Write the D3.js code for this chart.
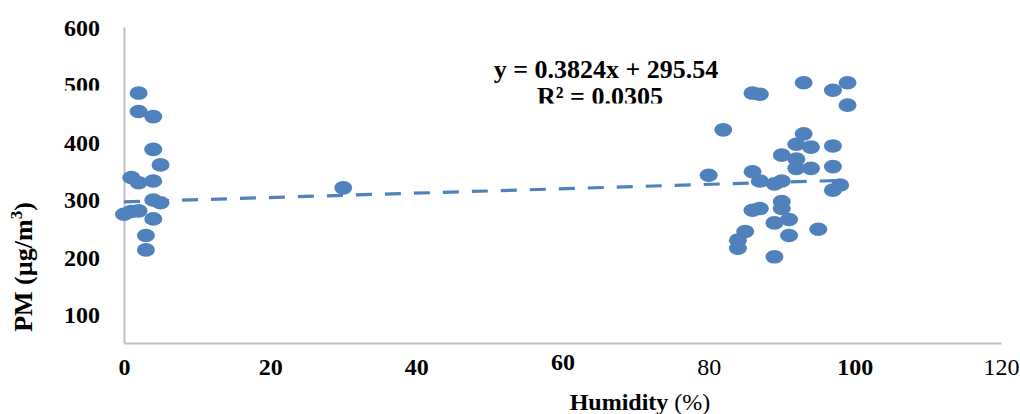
<!DOCTYPE html>
<html>
<head>
<meta charset="utf-8">
<script src="https://cdn.jsdelivr.net/npm/d3@7"></script>
<style>
  html, body { margin: 0; padding: 0; background: #fff; }
  svg { display: block; font-family: "Liberation Serif", "Times New Roman", serif; }
</style>
</head>
<body>
<svg id="chart" width="1020" height="414"></svg>
<script>
// Humidity (%) readings
const humidity = [
  2, 2, 4, 4, 5, 1, 2, 4, 4, 5, 0, 1, 2, 4, 3, 3,
  30,
  93, 97, 99, 99, 86, 87, 82, 80, 93, 92, 94, 97, 90, 92, 92, 94, 97,
  86, 87, 89, 90, 98, 97, 90, 90, 86, 87, 91, 89, 85, 84, 84, 91, 95, 89
];
// Matching PM concentrations (µg/m³)
const pm = [
  485, 453, 444, 387, 360, 338, 329, 332, 299, 294, 274, 279, 280, 266, 237, 212,
  320,
  503, 490, 503, 464, 485, 483, 421, 342, 414, 396, 391, 393, 377, 370, 354, 354, 357,
  348, 332, 327, 332, 325, 316, 296, 284, 281, 284, 265, 259, 244, 229, 215, 237, 248, 200
];
// Linear trendline coefficients
const trendSlope = 0.3824;
const trendIntercept = 295.54;
const r2 = 0.0305;

const xTicks = [0, 20, 40, 60, 80, 100, 120];
const yTicks = [100, 200, 300, 400, 500, 600];

const svg = d3.select("#chart");
const blue = "#4f81bd";
const axisGrey = "#bfbfbf";

const x = d3.scaleLinear().domain([0, 120]).range([124, 1001]);
const y = d3.scaleLinear().domain([50, 600]).range([343, 27]);

const defs = svg.append("defs");

// Axes: grey spines, no tick marks
const gx = svg.append("g").attr("transform", `translate(0,${y(50)})`)
  .call(d3.axisBottom(x).tickValues(xTicks).tickSize(0).tickSizeOuter(0).tickPadding(0));
const gy = svg.append("g").attr("transform", `translate(${x(0)},0)`)
  .call(d3.axisLeft(y).tickValues(yTicks).tickSize(0).tickSizeOuter(0).tickPadding(0));

[gx, gy].forEach(g => {
  g.select(".domain").attr("stroke", axisGrey).attr("stroke-width", 2);
  g.selectAll("text").attr("fill", "#000").attr("font-family", "Liberation Serif, serif")
    .attr("font-size", 24);
});

const lightTicks = new Set([80, 120]);
gx.selectAll(".tick text")
  .attr("font-weight", d => lightTicks.has(d) ? "normal" : "bold")
  .attr("dy", null)
  .attr("y", d => d === 60 ? 27 : 32);

gy.selectAll(".tick text")
  .attr("font-weight", "bold")
  .attr("x", -24)
  .attr("dy", "0.35em");

// The "500" label is partly hidden under the equation band
defs.append("clipPath").attr("id", "clip500tick")
  .append("rect").attr("x", -80).attr("y", -20).attr("width", 80).attr("height", 25.5);
gy.selectAll(".tick").filter(d => d === 500).select("text")
  .attr("clip-path", "url(#clip500tick)");

// Trendline over the observed humidity range
const xExt = d3.extent(humidity);
svg.append("line")
  .attr("x1", x(xExt[0])).attr("y1", y(trendSlope * xExt[0] + trendIntercept))
  .attr("x2", x(xExt[1])).attr("y2", y(trendSlope * xExt[1] + trendIntercept))
  .attr("stroke", blue).attr("stroke-width", 3.2)
  .attr("stroke-dasharray", "16,13");

// Scatter markers
svg.append("g").selectAll("ellipse")
  .data(humidity.map((h, i) => [h, pm[i]]))
  .join("ellipse")
  .attr("cx", d => x(d[0]))
  .attr("cy", d => y(d[1]))
  .attr("rx", 9)
  .attr("ry", 6.8)
  .attr("fill", blue);

// Regression equation
const eq = svg.append("g").attr("font-weight", "bold").attr("font-size", 26).attr("fill", "#000");
eq.append("text").attr("x", 606).attr("y", 78).attr("text-anchor", "middle")
  .text(`y = ${trendSlope}x + ${trendIntercept}`);
defs.append("clipPath").attr("id", "clipR2")
  .append("rect").attr("x", 450).attr("y", 82).attr("width", 300).attr("height", 21.5);
eq.append("text").attr("x", 600).attr("y", 105).attr("text-anchor", "middle")
  .attr("clip-path", "url(#clipR2)")
  .text(`R² = ${r2.toFixed(4)}`);

// Axis titles
const xt = svg.append("text").attr("x", 640).attr("y", 410).attr("text-anchor", "middle")
  .attr("font-size", 24).attr("fill", "#000");
xt.append("tspan").attr("font-weight", "bold").text("Humidity");
xt.append("tspan").attr("font-weight", "normal").text(" (%)");

const yt = svg.append("text")
  .attr("transform", "translate(32,267) rotate(-90)")
  .attr("text-anchor", "middle")
  .attr("font-size", 26).attr("font-weight", "bold").attr("fill", "#000");
yt.append("tspan").text("PM  (µg/m");
yt.append("tspan").attr("font-size", 17).attr("dy", -10).text("3");
yt.append("tspan").attr("dy", 10).text(")");
</script>
</body>
</html>
